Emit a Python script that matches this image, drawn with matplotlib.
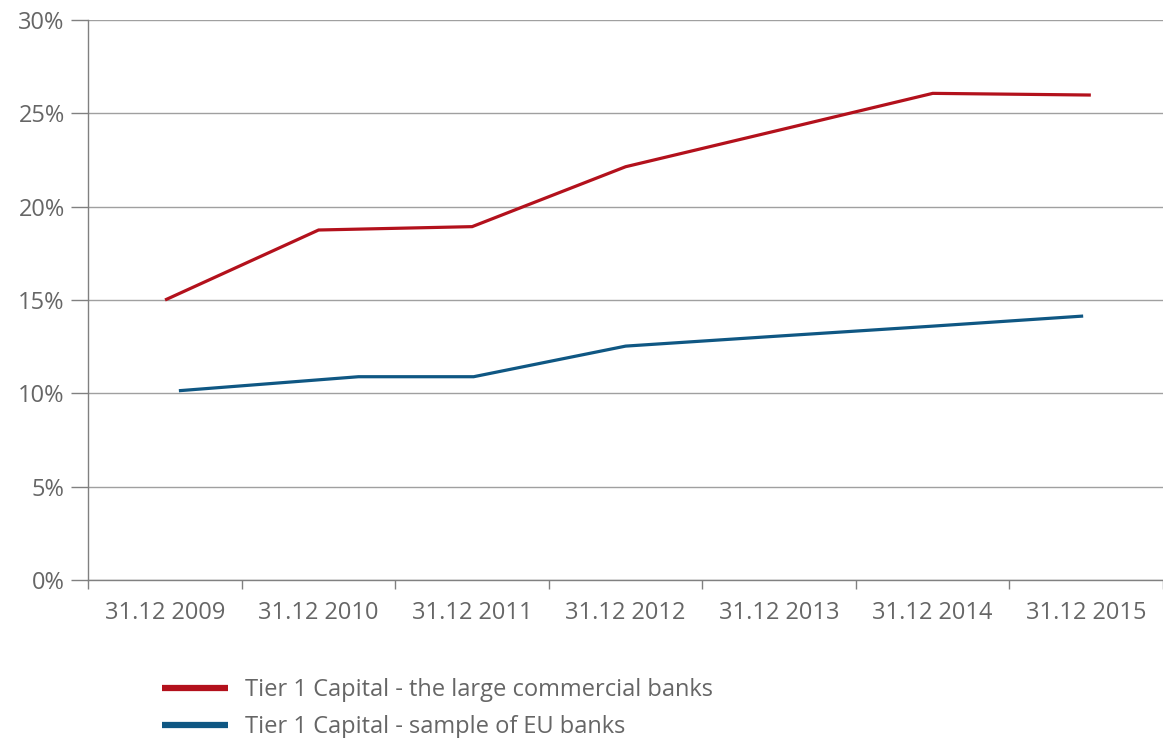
import matplotlib
matplotlib.use("Agg")
import matplotlib.pyplot as plt
import numpy as np

plt.rcParams['font.family'] = ['Open Sans', 'DejaVu Sans']

# --- data ---
categories = ["31.12 2009", "31.12 2010", "31.12 2011", "31.12 2012",
              "31.12 2013", "31.12 2014", "31.12 2015"]

large_x = [0, 1, 2, 3, 4, 5, 6.03]
large_banks = [15.0, 18.75, 18.93, 22.14, 24.1, 26.07, 25.98]

eu_x = [0.09, 1.26, 2.01, 3.0, 4.0, 5.0, 5.98]
eu_banks = [10.14, 10.89, 10.89, 12.53, 13.07, 13.6, 14.14]

labels = ["Tier 1 Capital - the large commercial banks",
          "Tier 1 Capital - sample of EU banks"]
yticks = [0, 5, 10, 15, 20, 25, 30]

RED = "#b3111c"
BLUE = "#0f5783"
TEXT = "#666666"
AXIS = "#808080"
FS = 17

W, H = 1163, 738
fig = plt.figure(figsize=(W / 100, H / 100), dpi=100, facecolor="white")
left, right, top, bottom = 88.3, 1163, 20, 580
ax = fig.add_axes([left / W, 1 - bottom / H, (right - left) / W, (bottom - top) / H])

step = 155.2  # px per category
ax.set_xlim(-0.5, (right - left) / step - 0.5)
ax.set_ylim(0, 30)

ax.plot(large_x, large_banks, color=RED, lw=2.3, solid_capstyle="butt",
        solid_joinstyle="miter", label=labels[0])
ax.plot(eu_x, eu_banks, color=BLUE, lw=2.3, solid_capstyle="butt",
        solid_joinstyle="miter", label=labels[1])

# gridlines
ax.set_yticks(yticks)
ax.set_yticklabels([f"{v}%" for v in yticks])
ax.yaxis.grid(True, color="#a0a0a0", lw=1.0)
ax.set_axisbelow(True)

# category boundaries as major ticks, labels on minor ticks at centres
n = len(categories)
ax.set_xticks(np.arange(-0.5, n, 1.0))
ax.set_xticklabels([])
ax.set_xticks(np.arange(n), minor=True)
ax.set_xticklabels(categories, minor=True)
ax.tick_params(axis="x", which="major", length=6.5, width=1, color=AXIS, direction="out")
ax.tick_params(axis="x", which="minor", length=0, pad=15, labelsize=FS, labelcolor=TEXT)
ax.tick_params(axis="y", length=12, width=1, color=AXIS, pad=5, labelsize=FS, labelcolor=TEXT)

for side in ["top", "right"]:
    ax.spines[side].set_visible(False)
for side in ["left", "bottom"]:
    ax.spines[side].set_color(AXIS)
    ax.spines[side].set_linewidth(1)

leg = fig.legend(loc="upper left", bbox_to_anchor=(162 / W, 1 - 678 / H),
                 frameon=False, fontsize=FS, handlelength=2.8, handletextpad=0.7,
                 labelspacing=0.55, borderpad=0, borderaxespad=0)
for line in leg.get_lines():
    line.set_linewidth(4.5)
for t in leg.get_texts():
    t.set_color(TEXT)

fig.savefig("out.png", dpi=100, facecolor="white")
